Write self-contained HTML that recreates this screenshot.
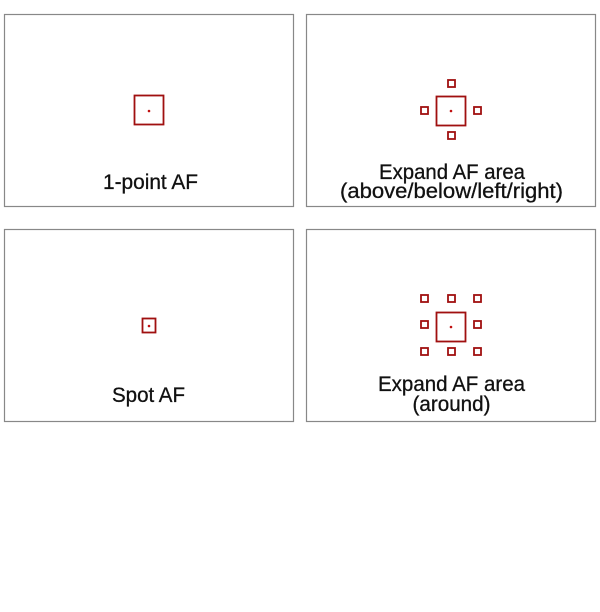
<!DOCTYPE html>
<html><head><style>html,body{margin:0;padding:0;background:#fff}svg{display:block}</style></head>
<body>
<svg width="600" height="612" viewBox="0 0 600 612" xmlns="http://www.w3.org/2000/svg">
<g fill="none" stroke="#888" stroke-width="1.2">
<rect x="4.5" y="14.5" width="289" height="192"/>
<rect x="306.5" y="14.5" width="289" height="192"/>
<rect x="4.5" y="229.5" width="289" height="192"/>
<rect x="306.5" y="229.5" width="289" height="192"/>
</g>
<g fill="none" stroke="#a01010" stroke-width="1.8">
<rect x="134.5" y="95.5" width="29" height="29"/>
<rect x="436.5" y="96.5" width="29" height="29"/>
<rect x="448" y="80" width="7" height="7"/>
<rect x="448" y="132" width="7" height="7"/>
<rect x="421" y="107" width="7" height="7"/>
<rect x="474" y="107" width="7" height="7"/>
<rect x="142.5" y="318.5" width="13" height="14"/>
<rect x="436.5" y="312.5" width="29" height="29"/>
<rect x="421" y="295" width="7" height="7"/>
<rect x="448" y="295" width="7" height="7"/>
<rect x="474" y="295" width="7" height="7"/>
<rect x="421" y="321" width="7" height="7"/>
<rect x="474" y="321" width="7" height="7"/>
<rect x="421" y="348" width="7" height="7"/>
<rect x="448" y="348" width="7" height="7"/>
<rect x="474" y="348" width="7" height="7"/>
</g>
<g fill="#c01010">
<circle cx="149" cy="111" r="1.3"/>
<circle cx="451" cy="111" r="1.3"/>
<circle cx="149" cy="326" r="1.3"/>
<circle cx="451" cy="327" r="1.3"/>
</g>
<g font-family="Liberation Sans, sans-serif" font-size="21" fill="#111" text-anchor="middle" stroke="#111" stroke-width="0.3">
<text x="150.5" y="189" textLength="95" lengthAdjust="spacingAndGlyphs">1-point AF</text>
<text x="452" y="179" textLength="146" lengthAdjust="spacingAndGlyphs">Expand AF area</text>
<text x="451.5" y="198" textLength="223" lengthAdjust="spacingAndGlyphs">(above/below/left/right)</text>
<text x="148.5" y="402" textLength="73" lengthAdjust="spacingAndGlyphs">Spot AF</text>
<text x="451.5" y="391" textLength="147" lengthAdjust="spacingAndGlyphs">Expand AF area</text>
<text x="451.5" y="411" textLength="78" lengthAdjust="spacingAndGlyphs">(around)</text>
</g>
</svg>
</body></html>
